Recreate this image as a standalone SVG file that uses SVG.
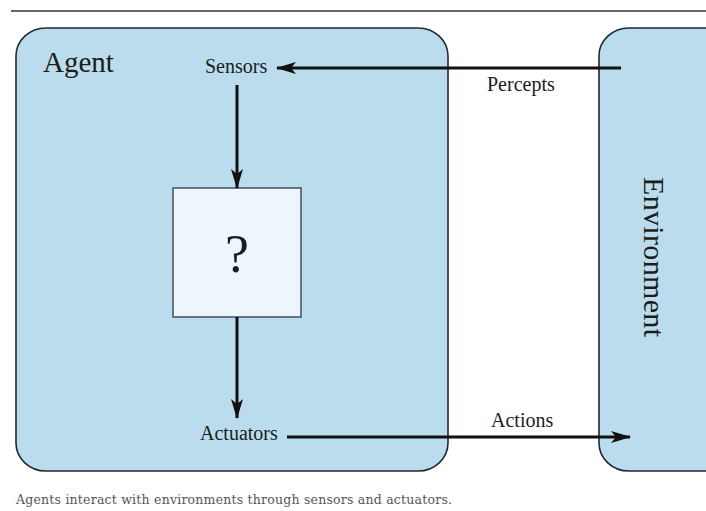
<svg xmlns="http://www.w3.org/2000/svg" width="706" height="511" viewBox="0 0 706 511">
  <style>
    .box { fill: #badcec; stroke: #1f2a33; stroke-width: 1.6; }
    .inner { fill: #ecf6fc; stroke: #4a5866; stroke-width: 1.6; }
    .lbl { font-family: "Liberation Serif", "Times New Roman", serif; fill: #1c1c1c; }
    .wire { stroke: #111; stroke-width: 3; fill: none; }
    .cap { font-family: "DejaVu Serif", serif; fill: #555; font-size: 12.5px; }
  </style>
  <defs>
    <marker id="head" viewBox="0 0 20 12" refX="19" refY="6" markerWidth="20" markerHeight="12" markerUnits="userSpaceOnUse" orient="auto">
      <path d="M0,0 L20,6 L0,12 L5,6 Z" fill="#111"/>
    </marker>
  </defs>

  <rect width="706" height="511" fill="#fff"/>
  <line x1="11" y1="11" x2="706" y2="11" stroke="#666" stroke-width="2"/>

  <g id="agent">
    <rect class="box" x="16" y="28" width="432" height="443" rx="30" ry="28"/>
    <text class="lbl" x="43" y="72" font-size="29">Agent</text>
  </g>

  <g id="environment">
    <rect class="box" x="599" y="28" width="140" height="443" rx="30" ry="28"/>
    <text class="lbl" font-size="30" transform="translate(644,177) rotate(90)" textLength="160">Environment</text>
  </g>

  <g id="sensors">
    <text class="lbl" x="205" y="73" font-size="20">Sensors</text>
  </g>

  <g id="decision">
    <rect class="inner" x="173" y="188" width="128" height="129"/>
    <text class="lbl" x="237" y="272" font-size="54" text-anchor="middle">?</text>
  </g>

  <g id="actuators">
    <text class="lbl" x="200" y="440" font-size="20">Actuators</text>
  </g>

  <g id="connectors">
    <line class="wire" x1="621" y1="68" x2="277" y2="68" marker-end="url(#head)"/>
    <text class="lbl" x="487" y="91" font-size="20">Percepts</text>
    <line class="wire" x1="237" y1="85" x2="237" y2="188" marker-end="url(#head)"/>
    <line class="wire" x1="237" y1="317" x2="237" y2="418" marker-end="url(#head)"/>
    <line class="wire" x1="287" y1="437" x2="630" y2="437" marker-end="url(#head)"/>
    <text class="lbl" x="491" y="427" font-size="20">Actions</text>
  </g>

  <text class="cap" x="16" y="504" textLength="436">Agents interact with environments through sensors and actuators.</text>
</svg>
